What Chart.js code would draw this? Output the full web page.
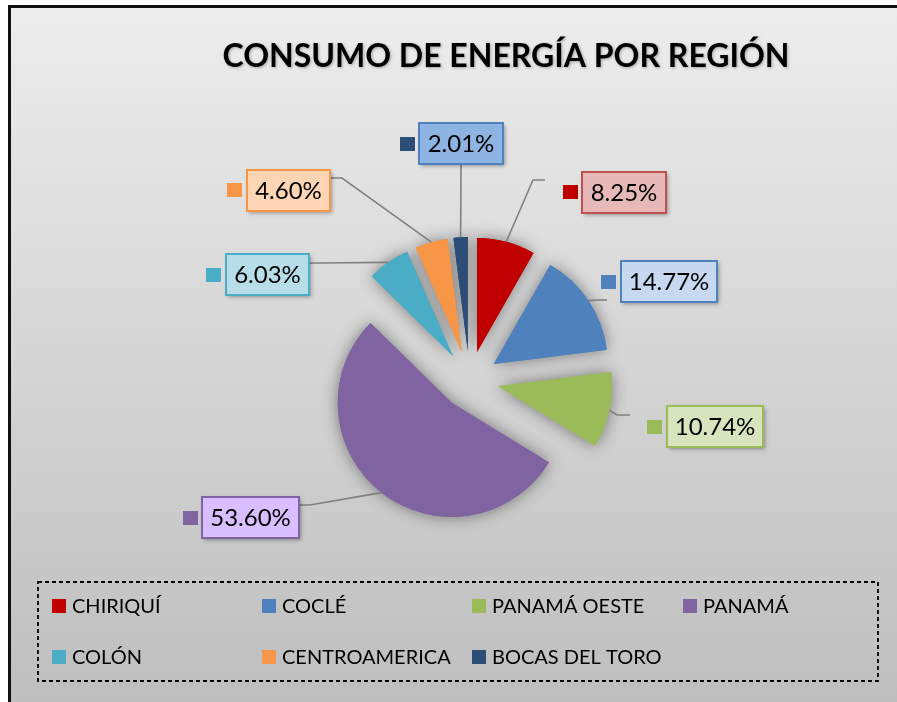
<!DOCTYPE html>
<html>
<head>
<meta charset="utf-8">
<script src="https://cdn.jsdelivr.net/npm/chart.js@4.4.1/dist/chart.umd.min.js"></script>
<style>
  html, body { margin: 0; padding: 0; background: #ffffff; }
  #wrap { position: relative; width: 897px; height: 702px; }
  canvas { display: block; }
</style>
</head>
<body>
<div id="wrap"><canvas id="c" width="897" height="702"></canvas></div>
<script>
// ---- data ----
const chartTitle = 'CONSUMO DE ENERGÍA POR REGIÓN';
const categories = ['CHIRIQUÍ', 'COCLÉ', 'PANAMÁ OESTE', 'PANAMÁ', 'COLÓN', 'CENTROAMERICA', 'BOCAS DEL TORO'];
const shares = [8.25, 14.77, 10.74, 53.60, 6.03, 4.60, 2.01];

// ---- styles ----
const sliceColors = ['#C00000', '#4F81BD', '#9BBB59', '#8064A2', '#4BACC6', '#F79646', '#2C4D75'];
const labelFills  = ['#E6B9B8', '#C6D9F1', '#D7E4BD', '#D9BFFF', '#B7DEE8', '#FCD5B5', '#8EB4E3'];
const labelBorders = ['#C0504D', '#4F81BD', '#9BBB59', '#8064A2', '#4BACC6', '#F79646', '#4F81BD'];
// label box [left, top, width, height], key square [left, top], leader elbow and end
const labelBoxes = [[582,172,84,41],[621,261,96,41],[667,406,96,41],[202,497,97,41],[226,254,83,41],[247,170,83,41],[419,123,84,41]];
const labelKeys  = [[563,185],[601,275],[647,420],[183,511],[206,268],[227,183],[400,137]];
const leaderElbows = [[533,180],[596,300],[617,415],[310,505],[320,263],[342,178],[461,172]];
const leaderEnds   = [[545,180],[607,300],[630,415],[299,505],[309,263],[330,178],[461,164]];
const legendCols = [52, 262, 472, 683];
const legendRows = [606, 657];
const EXPLODE = 29;
const RADIUS = 114;

const decorPlugin = {
  id: 'decor',
  beforeDraw(chart) {
    const ctx = chart.ctx;
    ctx.save();
    ctx.fillStyle = '#ffffff';
    ctx.fillRect(0, 0, 897, 702);
    ctx.fillStyle = '#111111';
    ctx.fillRect(8, 5, 897, 702);
    const g = ctx.createLinearGradient(0, 8, 0, 702);
    g.addColorStop(0, '#EDEDED');
    g.addColorStop(1, '#BEBEBE');
    ctx.fillStyle = g;
    ctx.fillRect(11, 8, 897, 702);
    // title
    ctx.fillStyle = '#000000';
    ctx.font = 'bold 32px Lato, "Noto Sans", sans-serif';
    ctx.textAlign = 'center';
    ctx.textBaseline = 'alphabetic';
    ctx.shadowColor = 'rgba(0,0,0,0.3)';
    ctx.shadowBlur = 3;
    ctx.shadowOffsetX = 1;
    ctx.shadowOffsetY = 1;
    ctx.fillText(chartTitle, 506, 67);
    ctx.restore();
  },
  beforeDatasetDraw(chart, args) {
    const ctx = chart.ctx;
    const arcs = args.meta.data;
    // pass 1: soft shadow
    arcs.forEach((arc) => {
      const mid = (arc.startAngle + arc.endAngle) / 2;
      ctx.save();
      ctx.translate(Math.cos(mid) * EXPLODE, Math.sin(mid) * EXPLODE);
      ctx.shadowColor = 'rgba(0,0,0,0.45)';
      ctx.shadowBlur = 16;
      arc.draw(ctx);
      ctx.restore();
    });
    // pass 2: clean slices
    arcs.forEach((arc) => {
      const mid = (arc.startAngle + arc.endAngle) / 2;
      ctx.save();
      ctx.translate(Math.cos(mid) * EXPLODE, Math.sin(mid) * EXPLODE);
      arc.draw(ctx);
      ctx.restore();
    });
    return false;
  },
  afterDraw(chart) {
    const ctx = chart.ctx;
    const arcs = chart.getDatasetMeta(0).data;
    ctx.save();
    // leader lines
    arcs.forEach((arc, i) => {
      const mid = (arc.startAngle + arc.endAngle) / 2;
      const r = arc.outerRadius + EXPLODE;
      const sx = arc.x + Math.cos(mid) * r;
      const sy = arc.y + Math.sin(mid) * r;
      ctx.beginPath();
      ctx.moveTo(sx, sy);
      ctx.lineTo(leaderElbows[i][0], leaderElbows[i][1]);
      ctx.lineTo(leaderEnds[i][0], leaderEnds[i][1]);
      ctx.strokeStyle = '#808080';
      ctx.lineWidth = 1.6;
      ctx.stroke();
    });
    // label boxes
    arcs.forEach((arc, i) => {
      const [bx, by, bw, bh] = labelBoxes[i];
      ctx.save();
      ctx.shadowColor = 'rgba(0,0,0,0.35)';
      ctx.shadowBlur = 4;
      ctx.shadowOffsetX = 2;
      ctx.shadowOffsetY = 2;
      ctx.fillStyle = labelFills[i];
      ctx.fillRect(bx, by, bw, bh);
      ctx.restore();
      ctx.strokeStyle = labelBorders[i];
      ctx.lineWidth = 2;
      ctx.strokeRect(bx, by, bw, bh);
      ctx.fillStyle = sliceColors[i];
      ctx.fillRect(labelKeys[i][0], labelKeys[i][1], 15, 14);
      ctx.fillStyle = '#000000';
      ctx.font = '24px Lato, "Noto Sans", sans-serif';
      ctx.textAlign = 'center';
      ctx.textBaseline = 'middle';
      ctx.fillText(shares[i].toFixed(2) + '%', bx + bw / 2, by + bh / 2 + 1);
    });
    // legend
    ctx.setLineDash([4, 3]);
    ctx.strokeStyle = '#000000';
    ctx.lineWidth = 1.8;
    ctx.strokeRect(38, 582, 840, 99);
    ctx.setLineDash([]);
    ctx.font = '20px Lato, "Noto Sans", sans-serif';
    ctx.textAlign = 'left';
    ctx.textBaseline = 'middle';
    categories.forEach((name, i) => {
      const x = legendCols[i % 4];
      const y = legendRows[Math.floor(i / 4)];
      ctx.fillStyle = sliceColors[i];
      ctx.fillRect(x, y - 7, 14, 14);
      ctx.fillStyle = '#000000';
      ctx.fillText(name, x + 20, y + 1);
    });
    ctx.restore();
  }
};

new Chart(document.getElementById('c'), {
  type: 'pie',
  data: {
    labels: categories,
    datasets: [{
      data: shares,
      backgroundColor: sliceColors,
      borderWidth: 0,
      radius: RADIUS
    }]
  },
  options: {
    responsive: false,
    animation: false,
    events: [],
    layout: { padding: { left: 200, right: 157.8, top: 150, bottom: 92 } },
    plugins: {
      legend: { display: false },
      title: { display: false },
      tooltip: { enabled: false }
    }
  },
  plugins: [decorPlugin]
});
</script>
</body>
</html>
